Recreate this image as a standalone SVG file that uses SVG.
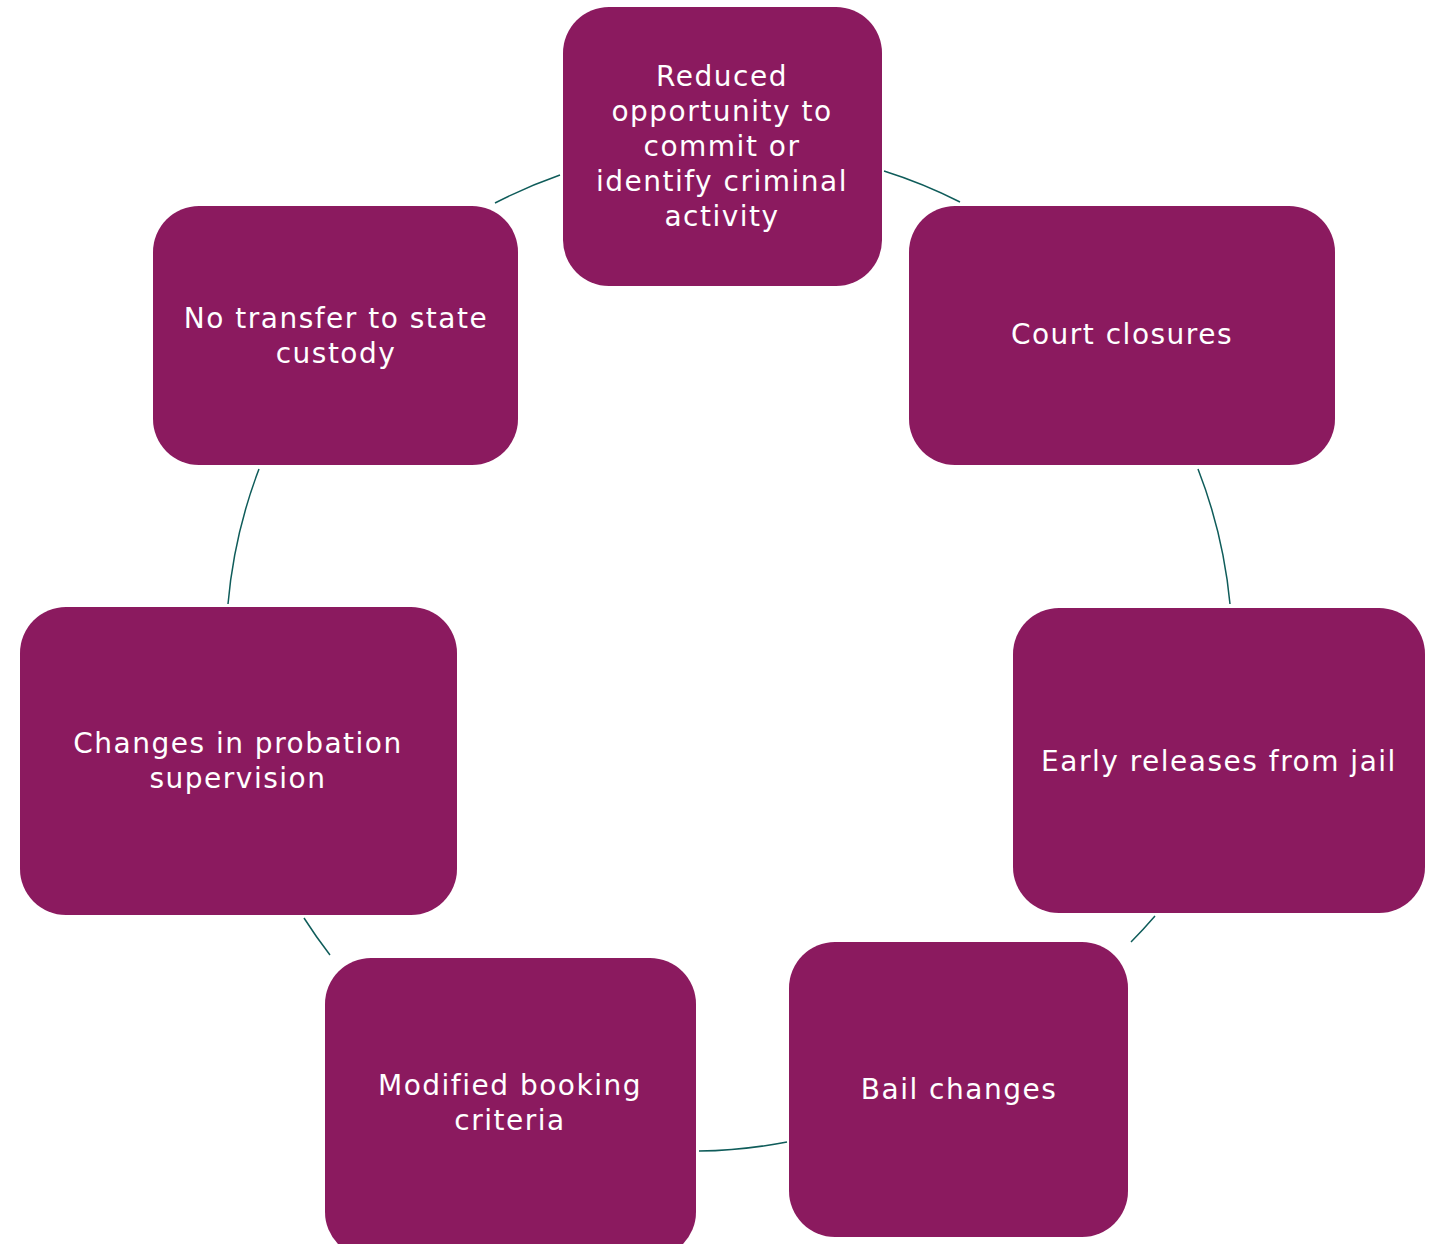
<svg xmlns="http://www.w3.org/2000/svg" width="1433" height="1244" viewBox="0 0 1433 1244">
<style>
.box{fill:#8b1a5f;}
.lbl{fill:#ffffff;font-family:"DejaVu Sans","Liberation Sans",sans-serif;font-size:28px;letter-spacing:1.5px;text-anchor:middle;}
.arc{fill:none;stroke:#0f5c5a;stroke-width:1.5;}
</style>
<rect width="1433" height="1244" fill="#ffffff"/>
<g id="connectors">
<path class="arc" d="M495,203 A502,502 0 0 1 560,175"/>
<path class="arc" d="M884,171 A502,502 0 0 1 960,202"/>
<path class="arc" d="M1198,469 A502,502 0 0 1 1230,604"/>
<path class="arc" d="M1155,916 A502,502 0 0 1 1131,942"/>
<path class="arc" d="M787,1142 A502,502 0 0 1 699,1151"/>
<path class="arc" d="M330,955 A502,502 0 0 1 304,918"/>
<path class="arc" d="M228,604 A502,502 0 0 1 259,469"/>
</g>
<g id="n1">
<rect class="box" x="563" y="7" width="319" height="279" rx="46"/>
<text class="lbl" x="722"><tspan x="722" y="86">Reduced</tspan><tspan x="722" y="121">opportunity to</tspan><tspan x="722" y="156">commit or</tspan><tspan x="722" y="191">identify criminal</tspan><tspan x="722" y="226">activity</tspan></text>
</g>
<g id="n2">
<rect class="box" x="909" y="206" width="426" height="259" rx="46"/>
<text class="lbl" x="1122" y="344">Court closures</text>
</g>
<g id="n3">
<rect class="box" x="1013" y="608" width="412" height="305" rx="46"/>
<text class="lbl" x="1219" y="771">Early releases from jail</text>
</g>
<g id="n4">
<rect class="box" x="789" y="942" width="339" height="295" rx="46"/>
<text class="lbl" x="959" y="1099">Bail changes</text>
</g>
<g id="n5">
<rect class="box" x="325" y="958" width="371" height="300" rx="46"/>
<text class="lbl"><tspan x="510" y="1095">Modified booking</tspan><tspan x="510" y="1130">criteria</tspan></text>
</g>
<g id="n6">
<rect class="box" x="20" y="607" width="437" height="308" rx="46"/>
<text class="lbl"><tspan x="238" y="753">Changes in probation</tspan><tspan x="238" y="788">supervision</tspan></text>
</g>
<g id="n7">
<rect class="box" x="153" y="206" width="365" height="259" rx="46"/>
<text class="lbl"><tspan x="336" y="328">No transfer to state</tspan><tspan x="336" y="363">custody</tspan></text>
</g>
</svg>
